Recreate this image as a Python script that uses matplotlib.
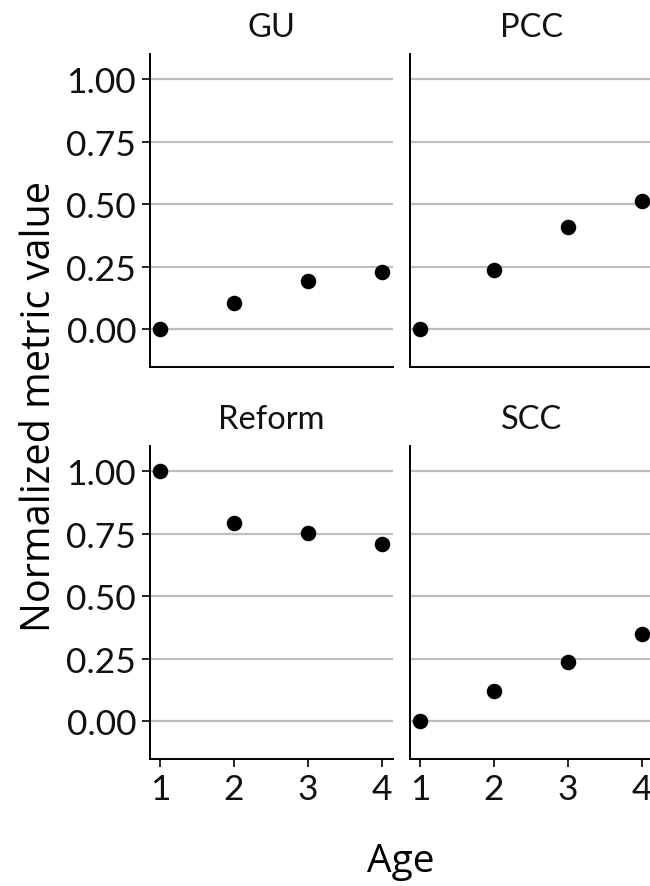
import matplotlib
matplotlib.use("Agg")
import matplotlib.pyplot as plt

# Normalized metric values by age for each facet
ages = [1, 2, 3, 4]
facets = ["GU", "PCC", "Reform", "SCC"]
gu_values = [0.0, 0.105, 0.193, 0.229]
pcc_values = [0.0, 0.238, 0.409, 0.513]
reform_values = [1.0, 0.794, 0.752, 0.708]
scc_values = [0.0, 0.120, 0.236, 0.350]
y_ticks = [0.0, 0.25, 0.50, 0.75, 1.00]
y_tick_labels = ["0.00", "0.25", "0.50", "0.75", "1.00"]

series = [gu_values, pcc_values, reform_values, scc_values]

W, H = 650, 887
fig = plt.figure(figsize=(W / 100, H / 100), dpi=100)

tick_font = "Lato"
title_font = "Open Sans"

left_x = [150, 410]
top_y = [55, 447]
pw, ph = 243, 313

for i, (name, vals) in enumerate(zip(facets, series)):
    r, c = divmod(i, 2)
    x0 = left_x[c] / W
    y0 = 1 - (top_y[r] + ph) / H
    ax = fig.add_axes([x0, y0, pw / W, ph / H])
    ax.set_xlim(0.865, 4.15)
    ax.set_ylim(-0.15, 1.1)
    for yv in y_ticks:
        ax.axhline(yv, color="#BEBEBE", lw=1.6, zorder=1)
    ax.scatter(ages, vals, s=125, color="black", zorder=3, clip_on=False,
               linewidths=0)
    for side in ["top", "right"]:
        ax.spines[side].set_visible(False)
    for side in ["left", "bottom"]:
        ax.spines[side].set_linewidth(1.4)
        ax.spines[side].set_color("black")
    ax.set_yticks(y_ticks)
    ax.set_xticks(ages)
    ax.tick_params(axis="both", length=6, width=1.2, color="black",
                   labelsize=25.5, pad=4, labelcolor="#111111")
    if c == 0:
        ax.set_yticklabels(y_tick_labels, fontfamily=tick_font)
    else:
        ax.tick_params(axis="y", left=False, labelleft=False)
    if r == 1:
        ax.set_xticklabels([str(a) for a in ages], fontfamily=tick_font)
    else:
        ax.tick_params(axis="x", bottom=False, labelbottom=False)
    ax.text(0.5, 1 + 27 / ph, name, transform=ax.transAxes, ha="center",
            va="center", fontsize=23.5, fontfamily=tick_font,
            color="#111111")

fig.text(401 / W, 1 - 862 / H, "Age", ha="center", va="center",
         fontsize=28, fontfamily=title_font)
fig.text(40 / W, 1 - 407 / H, "Normalized metric value", ha="center",
         va="center", rotation=90, fontsize=28.5, fontfamily=title_font)

fig.savefig("out.png", dpi=100)
